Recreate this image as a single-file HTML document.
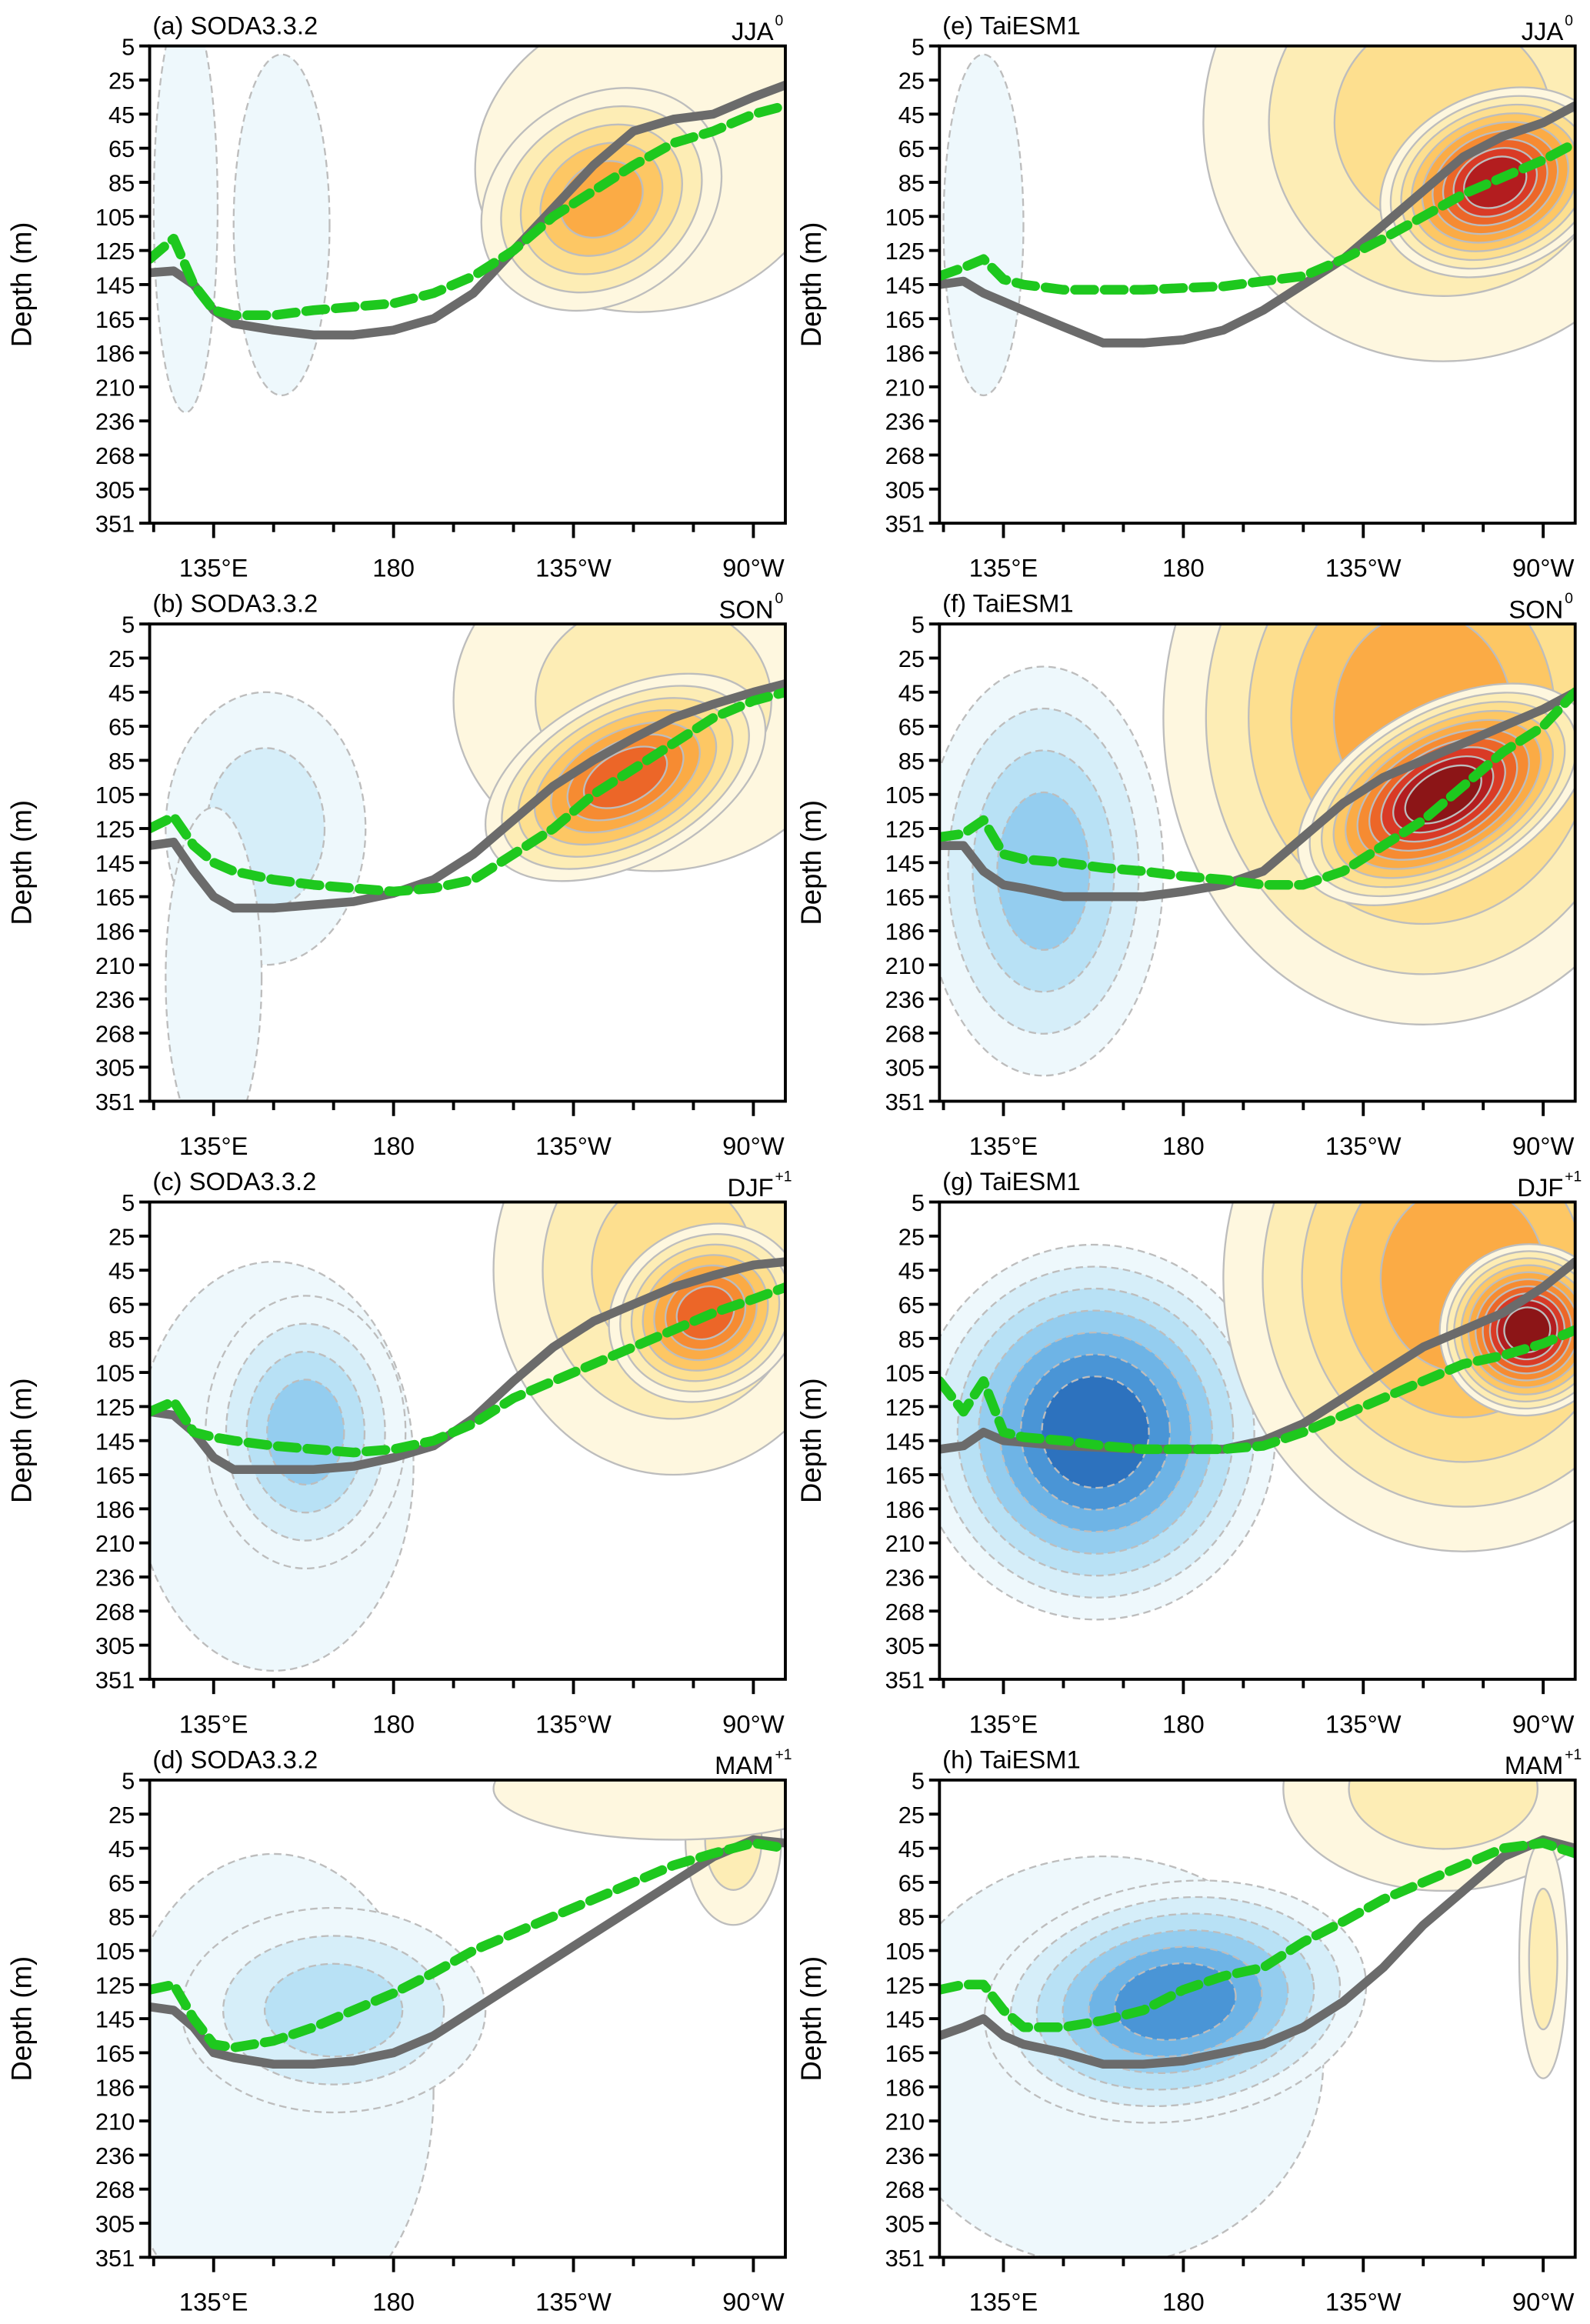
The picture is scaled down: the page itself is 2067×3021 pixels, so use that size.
<!DOCTYPE html>
<html><head><meta charset="utf-8">
<style>
html,body{margin:0;padding:0;background:#fff;overflow:hidden;width:2067px;height:3021px;}
svg{display:block;}
text{font-family:"Liberation Sans",Arial,sans-serif;fill:#000;}
</style></head>
<body>
<svg id="fig" xmlns="http://www.w3.org/2000/svg" width="2067" height="3021" viewBox="0 0 1073 1568" preserveAspectRatio="none"></svg>
<script>
// ---- data ----
const depthLabels = [5,25,45,65,85,105,125,145,165,186,210,236,268,305,351];
const lonTicks = [135,180,225,270];
const lonTickLabels = ["135\u00b0E","180","135\u00b0W","90\u00b0W"];
const lineLons = [119,125,130,135,140,150,160,170,180,190,200,210,220,230,240,250,260,270,278];
const panelNames = ["(a) SODA3.3.2","(b) SODA3.3.2","(c) SODA3.3.2","(d) SODA3.3.2","(e) TaiESM1","(f) TaiESM1","(g) TaiESM1","(h) TaiESM1"];
const seasons = ["JJA","SON","DJF","MAM","JJA","SON","DJF","MAM"];
const seasonSup = ["0","0","+1","+1","0","0","+1","+1"];
// thermocline depths (m), gray = climatology, green = composite
const grayA = [138,137,145,160,168,172,175,175,172,165,150,125,100,75,55,48,45,35,28];
const greenA= [130,118,145,160,163,163,160,158,156,150,140,125,105,90,75,62,55,45,40];
const grayB = [135,133,150,165,172,172,170,168,163,155,140,120,100,85,72,60,52,45,40];
const greenB= [125,118,135,145,150,155,158,160,162,160,155,140,125,105,90,75,60,50,45];
const grayC = [128,130,140,155,162,162,162,160,155,148,132,110,90,75,65,55,48,42,40];
const greenC= [128,122,140,143,145,148,150,152,150,145,135,120,110,100,90,80,70,62,55];
const grayD = [138,140,150,165,168,172,172,170,165,155,140,125,110,95,80,65,50,40,42];
const greenD= [128,125,145,160,162,158,150,140,130,118,105,95,85,75,65,55,48,42,45];
const grayE = [145,143,150,155,160,170,180,180,178,172,160,145,130,110,90,70,58,50,40];
const greenE= [140,135,130,142,145,148,148,148,147,146,143,140,130,118,105,92,82,72,62];
const grayF = [135,135,150,158,160,165,165,165,162,158,150,130,110,95,85,75,65,55,45];
const greenF= [130,128,120,140,143,145,148,150,153,155,158,158,150,135,120,100,80,65,45];
const grayG = [150,148,140,145,146,148,149,150,150,150,145,135,120,105,90,80,70,55,40];
const greenG= [110,128,110,140,143,145,148,150,150,150,148,140,130,120,110,100,95,88,80];
const grayH = [155,150,145,155,160,165,172,172,170,165,160,150,135,115,90,70,50,40,45];
const greenH= [128,125,125,140,150,150,146,140,128,120,115,100,88,75,65,55,45,42,48];
// anomaly blobs: [lon, depth(m), halfWidth(deg lon), halfHeight(depth-index units), tilt(deg), levels(signed)]
const fieldA = [[128,100,8,6,0,-1],[152,110,12,5,0,-1],[245,70,45,4.5,-15,1],[232,95,32,3,-35,5]];
const fieldB = [[148,125,25,4,0,-2],[135,220,12,5,0,-1],[245,50,50,5,0,2],[238,95,38,2.5,-28,7]];
const fieldC = [[150,160,35,6,0,-1],[158,140,25,4,0,-4],[250,45,45,6,0,3],[258,70,25,2.5,-30,7]];
const fieldD = [[150,190,40,7,0,-1],[165,140,38,3,0,-3],[265,40,12,2.5,0,2],[250,10,45,1.5,0,1]];
const fieldE = [[130,110,10,5,0,-1],[245,50,60,7,0,3],[258,85,30,2.6,-25,9]];
const fieldF = [[145,150,30,6,0,-4],[240,60,65,9,0,5],[245,105,40,2.6,-30,10]];
const fieldG = [[158,140,45,5.5,-5,-7],[250,50,60,8,0,5],[266,80,22,2.5,-25,10]];
const fieldH = [[160,170,55,6,0,-1],[178,135,48,3.5,-8,-6],[245,10,40,3,0,2],[270,110,6,3.5,0,2]];
const grays=[grayA,grayB,grayC,grayD,grayE,grayF,grayG,grayH];
const greens=[greenA,greenB,greenC,greenD,greenE,greenF,greenG,greenH];
const fields=[fieldA,fieldB,fieldC,fieldD,fieldE,fieldF,fieldG,fieldH];

const warm=['#fef7df','#fdedb5','#fddf8f','#fdc764','#fbab45','#f68b32','#ec6628','#d93a26','#b31d1f','#8c1517'];
const cool=['#eef8fc','#d6eef9','#b8e1f5','#94cdef','#6eb4e6','#4a95d6','#2d72be','#1d53a0'];

const NS="http://www.w3.org/2000/svg";
const svg=document.getElementById('fig');
function mk(tag,attrs,parent){const e=document.createElementNS(NS,tag);for(const k in attrs)e.setAttribute(k,attrs[k]);(parent||svg).appendChild(e);return e;}

const PW=429, PH=322, LON0=119, LON1=278;
const lefts=[101,634], tops=[31,421,811,1201];
function depthIdx(d){
  for(let i=0;i<depthLabels.length-1;i++){
    if(d<=depthLabels[i+1]) return i+(d-depthLabels[i])/(depthLabels[i+1]-depthLabels[i]);
  }
  return depthLabels.length-1;
}

for(let p=0;p<8;p++){
  const col=p<4?0:1, row=p%4;
  const X0=lefts[col], Y0=tops[row];
  const xS=lon=>X0+(lon-LON0)*PW/(LON1-LON0);
  const yS=d=>Y0+depthIdx(Math.max(d,5))*PH/14;
  const g=mk('g',{});
  
  
  mk('clipPath',{id:'clip'+p},g);
  mk('rect',{x:X0,y:Y0,width:PW,height:PH},document.getElementById('clip'+p));
  const plot=mk('g',{'clip-path':'url(#clip'+p+')'},g);
  
  
  mk('rect',{x:X0,y:Y0,width:PW,height:PH,fill:'#fff'},plot);
  fields[p].forEach((b,bi)=>{
    const [lon,dep,hw,hh,tilt,lev]=b;
    const cx=xS(lon), cy=yS(dep), rx=hw*PW/(LON1-LON0), ry=hh*PH/14;
    const n=Math.abs(lev), pal=lev>0?warm:cool;
    const bg=mk('g',{transform:`rotate(${tilt} ${cx} ${cy})`},plot);
    
    
    for(let k=0;k<n;k++){
      const s=1-0.82*k/n;
      const el=mk('ellipse',{cx:cx,cy:cy,rx:rx*s,ry:ry*s,fill:pal[Math.min(k,pal.length-1)],stroke:'#bdbdbd','stroke-width':1.2},bg);
      if(lev<0) el.setAttribute('stroke-dasharray','5 3');
      
      
    }
  });
  const pts=arr=>arr.map((d,i)=>xS(lineLons[i]).toFixed(1)+','+yS(d).toFixed(1)).join(' ');
  const gl=mk('polyline',{points:pts(grays[p]),fill:'none',stroke:'#6b6b6b','stroke-width':6,'stroke-linejoin':'round','stroke-linecap':'round'},plot);
  
  
  const gr=mk('polyline',{points:pts(greens[p]),fill:'none',stroke:'#1ec81e','stroke-width':6.5,'stroke-dasharray':'13 7','stroke-linejoin':'round','stroke-linecap':'round'},plot);
  
  
  const fr=mk('rect',{x:X0,y:Y0,width:PW,height:PH,fill:'none',stroke:'#000','stroke-width':2},g);
  
  
  depthLabels.forEach((d,i)=>{
    const y=Y0+i*PH/14;
    const tk=mk('line',{x1:X0-7,x2:X0,y1:y,y2:y,stroke:'#000','stroke-width':2},g);
    
    
    const t=mk('text',{x:X0-10,y:y+6,'text-anchor':'end','font-size':16},g);
    t.textContent=d;
    
    
  });
  for(let lon=120;lon<=275;lon+=15){
    const major=lonTicks.indexOf(lon)>=0;
    const tk=mk('line',{x1:xS(lon),x2:xS(lon),y1:Y0+PH,y2:Y0+PH+(major?10:6),stroke:'#000','stroke-width':2},g);
    
    
  }
  lonTicks.forEach((lon,i)=>{
    const t=mk('text',{x:xS(lon),y:Y0+PH+36,'text-anchor':'middle','font-size':17},g);
    t.textContent=lonTickLabels[i];
    
    
  });
  const yt=mk('text',{x:0,y:0,'text-anchor':'middle','font-size':19,transform:`translate(${X0-80} ${Y0+PH/2}) rotate(-90)`},g);
  yt.textContent='Depth (m)';
  
  
  const tt=mk('text',{x:X0+2,y:Y0-8,'font-size':17},g);
  tt.textContent=panelNames[p];
  
  
  const st=mk('text',{x:X0+PW-8,y:Y0-4,'text-anchor':'end','font-size':17},g);
  st.textContent=seasons[p];
  
  
  const sp=mk('text',{x:X0+PW-7,y:Y0-14,'text-anchor':'start','font-size':10},g);
  sp.textContent=seasonSup[p];
  
  
}
</script>
</body></html>
